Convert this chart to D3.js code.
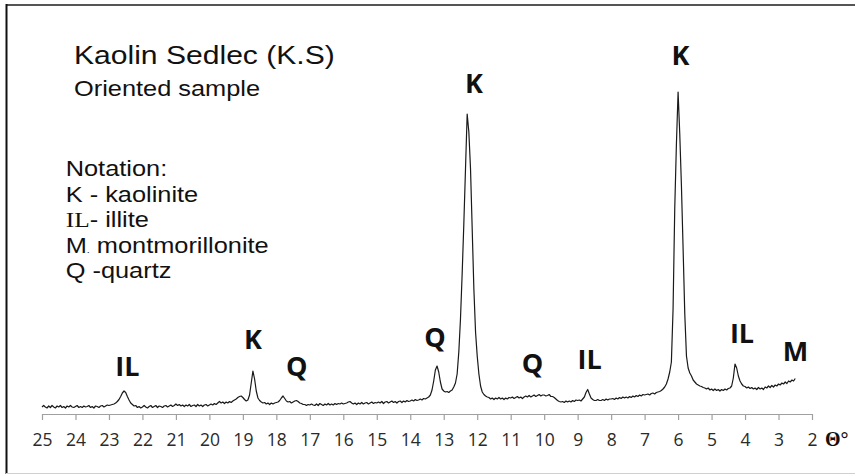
<!DOCTYPE html>
<html>
<head>
<meta charset="utf-8">
<script src="https://cdn.jsdelivr.net/npm/d3@7"></script>
<style>
  body { margin: 0; background: #fff; }
  svg { display: block; }
</style>
</head>
<body>
<svg id="chart"></svg>
<script>
// diffractogram: one value every 0.05 deg, from 25.00 down to 2.50
const thetaStart = 25;
const thetaStep = 0.05;
const intensity = [
  // 25.00 .. 24.05
  7, 8.5, 7, 6, 8, 6.5, 8.5, 7, 6, 8, 7, 8.5, 6.5, 7.5, 6, 8, 7, 8.5, 7, 6.5,
  // 24
  7.5, 8.5, 6.5, 7.5, 6.5, 8, 7, 7.5, 8.5, 6.5, 7.5, 6, 8, 7.5, 6.5, 8, 8.5, 7, 8, 9,
  // 23 (illite)
  8.5, 9, 9.5, 10, 11, 12.5, 14.5, 17.5, 21, 23, 21.5, 17.5, 14, 11, 9.5, 8, 8.5, 6.5, 7.5, 6,
  // 22
  7, 8.5, 7, 6, 7.5, 8.5, 6.5, 7.5, 8.5, 6.5, 8, 7.5, 6.5, 8, 8.5, 7, 8, 9, 7.5, 8.5,
  // 21
  10, 8.5, 9.5, 8, 9, 7.5, 9, 8, 9.5, 7.5, 8.5, 9, 7.5, 9.5, 8, 9, 7.5, 9, 9.5, 8,
  // 20
  9, 10, 9, 10.5, 9.5, 11, 12.5, 11, 12, 10.5, 12, 11, 12.5, 11.5, 13, 14, 15, 16.5, 17.5, 18,
  // 19 (kaolinite)
  16.5, 14.5, 13, 14, 19, 31, 43, 35, 23, 16, 13.5, 12, 11, 11.5, 10, 11, 9.5, 11, 10, 11,
  // 18 (quartz)
  11.5, 12, 13.5, 16, 18, 15.5, 13, 12, 12.5, 11, 12, 13, 13.5, 12.5, 11, 10.5, 9.5, 9.5, 8.5, 9.5,
  // 17
  9, 10, 9, 8.5, 10, 8.5, 10.5, 9.5, 8.5, 10, 9, 10.5, 9, 10, 9, 10.5, 9.5, 10.5, 10, 11,
  // 16
  10, 10.5, 11, 12, 12.5, 11, 10, 11, 9.5, 11, 10, 11.5, 10, 11, 11.5, 10, 11, 12, 10.5, 11.5,
  // 15
  11, 12, 11, 12.5, 10.5, 12, 12.5, 11, 12, 13, 11.5, 12.5, 11, 12.5, 13, 11.5, 13, 12, 13.5, 12.5,
  // 14 (quartz)
  13, 14, 13, 14.5, 13.5, 14, 15, 14, 15.5, 15, 16, 17, 19, 24, 33, 44, 48, 42, 32, 25,
  // 13 (kaolinite)
  23, 22, 22.5, 21.5, 23, 24, 27, 31, 40, 62, 95, 140, 190, 245, 300, 282, 245, 185, 125, 82,
  // 12
  58, 40, 28, 22, 19.5, 18, 17, 16.5, 15, 16, 14.5, 16, 15, 16.5, 15, 16, 14.5, 16, 15, 16.5,
  // 11
  16, 17, 15.5, 16.5, 17.5, 16, 17, 15.5, 17, 18, 17, 18.5, 17, 18, 19, 17.5, 18.5, 19.5, 18, 19,
  // 10
  19, 18, 18.5, 19.5, 17.5, 17.5, 16.5, 15, 13.5, 12.5, 12, 12.5, 11.5, 13, 12, 13, 12, 13.5, 12.5, 14,
  // 9 (illite)
  13.5, 14, 13, 15, 17, 21.5, 24.5, 20, 16, 14.5, 13.5, 13.5, 14.5, 13.5, 13.5, 14.5, 13.5, 15, 14, 15,
  // 8
  15, 15.5, 14.5, 16, 15, 16.5, 15.5, 17, 16, 17, 16, 17.5, 16.5, 18, 17, 18.5, 17.5, 19, 18, 19.5,
  // 7
  19, 19.5, 20, 19, 20.5, 21, 20, 21.5, 22, 22.5, 23.5, 25, 27, 30, 35, 42, 52, 105, 205, 270,
  // 6 (kaolinite)
  322, 280, 228, 165, 100, 58, 46, 41, 38, 34, 32, 30, 29, 28, 27.5, 26.5, 26, 25, 26, 24,
  // 5 (illite)
  25, 23.5, 25, 23.5, 24.5, 23, 24.5, 23.5, 25, 24, 25.5, 26, 28, 36, 50, 46, 38, 33, 30, 28,
  // 4
  27.5, 26, 27, 25.5, 26.5, 25, 26, 24.5, 26.5, 25, 26, 24.5, 27, 26, 28, 26.5, 28.5, 27, 29, 28,
  // 3 .. 2.50
  30, 29, 31, 30, 32, 30.5, 33, 32, 34, 33, 35.5
];

const tickLabels = [25, 24, 23, 22, 21, 20, 19, 18, 17, 16, 15, 14, 13, 12, 11, 10, 9, 8, 7, 6, 5, 4, 3, 2];

// phase marks over the peaks: text, angle, height
const peakNames = ["IL", "K", "Q", "Q", "K", "Q", "IL", "K", "IL", "M"];
const peakTheta = [22.45, 18.7, 17.39, 13.26, 12.1, 10.35, 8.64, 5.93, 4.09, 2.49];
const peakHeight = [38, 65, 38, 67, 321, 41, 45, 349, 71, 53.5];

const W = 855, H = 475;

const svg = d3.select("#chart").attr("width", W).attr("height", H);

// frame
svg.append("line").attr("x1", 6).attr("x2", W).attr("y1", 5).attr("y2", 5)
  .attr("stroke", "#555").attr("stroke-width", 2);
svg.append("line").attr("x1", 6.5).attr("x2", 6.5).attr("y1", 4).attr("y2", 474)
  .attr("stroke", "#111").attr("stroke-width", 2);
svg.append("line").attr("x1", 6).attr("x2", W).attr("y1", 473.5).attr("y2", 473.5)
  .attr("stroke", "#d0d0d0").attr("stroke-width", 1);

const x = d3.scaleLinear().domain([25, 2]).range([42, 812]);
const y = d3.scaleLinear().domain([0, 330]).range([414, 84]);

// axis
const axis = d3.axisBottom(x)
  .tickValues(tickLabels)
  .tickFormat(d3.format("d"))
  .tickSize(6)
  .tickSizeOuter(0)
  .tickPadding(13.5);

const gAxis = svg.append("g")
  .attr("transform", `translate(0,${y(0)})`)
  .call(axis);
gAxis.select(".domain").attr("stroke", "#a0a0a0").attr("stroke-width", 1.2);
gAxis.selectAll(".tick line").attr("stroke", "#a0a0a0").attr("stroke-width", 1.2);
gAxis.selectAll(".tick text")
  .attr("fill", "#2a2a2a")
  .style("font-family", "'Open Sans', sans-serif")
  .style("font-size", "17.5px");

svg.append("text")
  .attr("x", 825).attr("y", 446)
  .style("font-family", "'Liberation Serif', serif")
  .style("font-weight", "bold")
  .style("font-size", "20px")
  .attr("fill", "#111")
  .text("Θ°");

// curve
const line = d3.line()
  .x((d, i) => x(thetaStart - i * thetaStep))
  .y(d => y(d));

svg.append("path")
  .datum(intensity)
  .attr("d", line)
  .attr("fill", "none")
  .attr("stroke", "#1a1a1a")
  .attr("stroke-width", 1.2)
  .attr("stroke-linejoin", "round");

// peak labels
svg.selectAll(".peak")
  .data(peakNames)
  .enter()
  .append("text")
  .attr("class", "peak")
  .attr("x", (d, i) => x(peakTheta[i]))
  .attr("y", (d, i) => y(peakHeight[i]))
  .attr("text-anchor", "middle")
  .style("font-family", "'Open Sans', sans-serif")
  .style("font-weight", "bold")
  .style("font-size", "27px")
  .attr("fill", "#111")
  .text(d => d);

// title and notation (the original is stretched sideways)
function note(xp, yp, size) {
  return svg.append("text")
    .attr("transform", `translate(${xp},${yp}) scale(1.18,1)`)
    .style("font-family", "'Liberation Sans', Arial, sans-serif")
    .style("font-size", size + "px")
    .attr("fill", "#111");
}

note(74, 64, 25.5).text("Kaolin Sedlec (K.S)");
note(74, 96, 21.5).text("Oriented sample");
note(65.7, 176, 21.5).text("Notation:");
note(65.7, 201.5, 21.5).text("K - kaolinite");

const il = note(65.7, 227, 21.5);
il.append("tspan").style("font-family", "'Liberation Serif', serif").text("IL");
il.append("tspan").text("- illite");

const mm = note(65.7, 252.5, 21.5);
mm.append("tspan").text("M");
mm.append("tspan").style("font-size", "9px").text(".");
mm.append("tspan").text(" montmorillonite");

note(65.7, 278, 21.5).text("Q -quartz");
</script>
</body>
</html>
